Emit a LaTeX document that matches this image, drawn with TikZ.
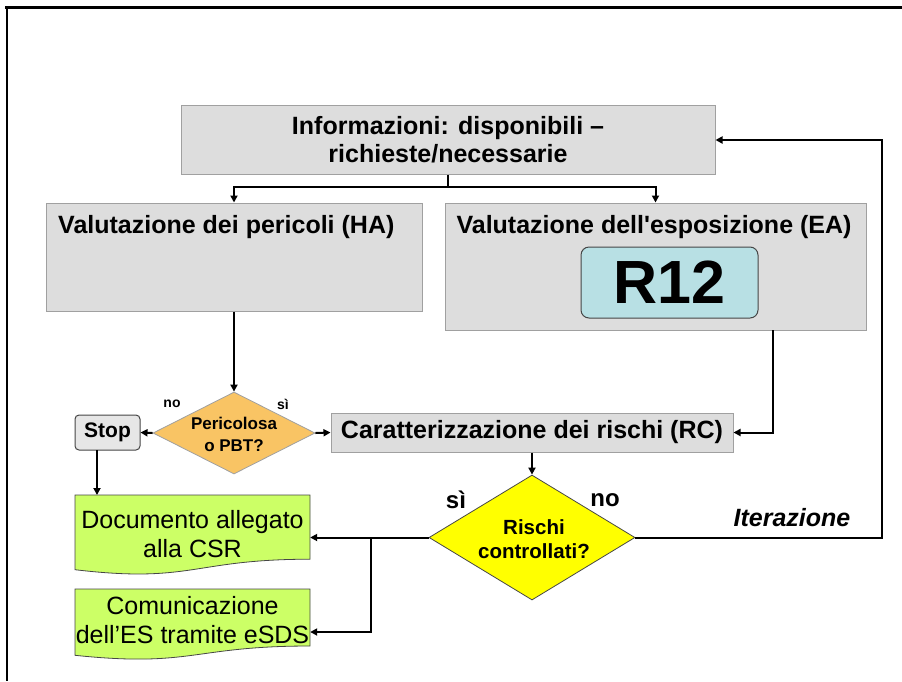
\documentclass[tikz,border=0pt]{standalone}
\usepackage{fontspec}
\setmainfont{Liberation Sans}[Ligatures=TeXOff]
\usetikzlibrary{shapes.geometric,arrows.meta}
\definecolor{boxgray}{RGB}{221,221,221}
\definecolor{boxline}{RGB}{160,160,160}
\definecolor{rfill}{RGB}{184,224,228}
\definecolor{orangefill}{RGB}{249,196,100}
\definecolor{yellowfill}{RGB}{255,255,0}
\definecolor{greenfill}{RGB}{204,255,102}
\definecolor{stopfill}{RGB}{230,230,230}
\definecolor{darkline}{RGB}{70,70,70}
\tikzset{
  graybox/.style={draw=boxline, fill=boxgray, line width=1pt, rectangle, inner sep=0pt},
  bigbold/.style={font=\fontsize{25}{28}\selectfont\bfseries, align=center, inner sep=0pt},
  bigreg/.style={font=\fontsize{25}{29}\selectfont, align=center, inner sep=0pt},
  arr/.style={line width=2pt, -{Triangle[length=7pt,width=7pt]}},
  conn/.style={line width=2pt},
  docshape/.style={draw=darkline, fill=greenfill, line width=0.8pt},
  smalllab/.style={font=\fontsize{14}{16}\selectfont\bfseries, inner sep=0pt},
  medlab/.style={font=\fontsize{24}{27}\selectfont\bfseries, inner sep=0pt}
}
\begin{document}
\begin{tikzpicture}[x=1pt,y=-1pt]
\useasboundingbox (0,0) rectangle (902,681);
% frame
\draw[line width=3pt] (5,7) -- (902,7);
\draw[line width=2pt] (7,7) -- (7,681);

% info box
\node[graybox, minimum width=534pt, minimum height=69pt] (info) at (448,139.5) {};
\node[bigbold] (infot) at (448,140) {Informazioni: disponibili –\\richieste/necessarie};

% HA box
\node[graybox, minimum width=376pt, minimum height=108pt] (ha) at (234,257) {};
\node[bigbold, anchor=west] (hat) at (58,227) {Valutazione dei pericoli (HA)};

% EA box
\node[graybox, minimum width=421pt, minimum height=127pt] (ea) at (655.5,266.5) {};
\node[bigbold] (eat) at (654,227) {Valutazione dell'esposizione (EA)};
\node[draw=darkline, fill=rfill, rounded corners=8pt, line width=1pt, minimum width=177pt, minimum height=71pt, inner sep=0pt,
      font=\fontsize{61}{61}\selectfont\bfseries] (r12) at (669.5,282.5) {R12};

% diamond 1
\node[diamond, draw=boxline, fill=orangefill, line width=0.8pt, minimum width=162pt, minimum height=82pt, inner sep=0pt] (d1) at (234,433) {};
\node[font=\fontsize{17}{22}\selectfont\bfseries, align=center, inner sep=0pt] (d1t) at (234,434) {Pericolosa\\o PBT?};
\node[smalllab] (lno1) at (172,404) {no};
\node[smalllab] (lsi1) at (283,404) {sì};

% stop
\node[draw=darkline, fill=stopfill, rounded corners=4pt, line width=1pt, minimum width=65pt, minimum height=35pt, inner sep=0pt,
      font=\fontsize{21}{24}\selectfont\bfseries] (stop) at (107.5,432.5) {Stop};

% RC box
\node[graybox, minimum width=402pt, minimum height=39pt, bigbold] (rc) at (532,432.5) {Caratterizzazione dei rischi (RC)};

% diamond 2
\node[diamond, draw=darkline, fill=yellowfill, line width=0.8pt, minimum width=206pt, minimum height=125pt, inner sep=0pt] (d2) at (532,537.5) {};
\node[font=\fontsize{20.5}{24}\selectfont\bfseries, align=center, inner sep=0pt] (d2t) at (534,539) {Rischi\\controllati?};
\node[medlab] (lsi2) at (456,500) {sì};
\node[medlab] (lno2) at (605,500) {no};
\node[font=\fontsize{25}{28}\selectfont\bfseries\itshape, inner sep=0pt] (iter) at (792,518) {Iterazione};

% documents
\draw[docshape] (75,495) -- (310,495) -- (310,559.2) .. controls (192.5,559.2) and (192.5,583.6) .. (75,569.7) -- cycle;
\node[bigreg, minimum width=235pt, minimum height=64pt] (doc1) at (192.5,534.5) {Documento allegato\\alla CSR};
\draw[docshape] (75,589) -- (310,589) -- (310,646) .. controls (192.5,646) and (192.5,667.6) .. (75,655.3) -- cycle;
\node[bigreg, minimum width=235pt, minimum height=57pt] (doc2) at (192.5,620) {Comunicazione\\dell’ES tramite eSDS};

% connectors
\coordinate (split) at (448,187);
\draw[conn] (info.south) -- (split);
\draw[arr] (split) -| (ha.north);
\draw[arr] (split) -| (ea.north);
\draw[arr] (ha.south) -- (d1.north);
\draw[arr] (d1.west) -- (stop.east);
\draw[arr] (d1.east) -- (rc.west);
\coordinate (eaout) at (773,330);
\draw[arr] (eaout) |- (rc.east);
\draw[arr] (rc.south) -- (d2.north);
\coordinate (itc) at (882,140);
\draw[arr] (d2.east) -| (itc) -- (itc -| info.east);
\draw[arr] (d2.west) -- (d2.west -| doc1.east);
\coordinate (br) at (371,537.5);
\coordinate (br2) at (371,632);
\draw[arr] (br) -- (br2) -- (br2 -| doc2.east);
\coordinate (so) at (97,450);
\draw[arr] (so) -- (97,495);
\end{tikzpicture}
\end{document}
